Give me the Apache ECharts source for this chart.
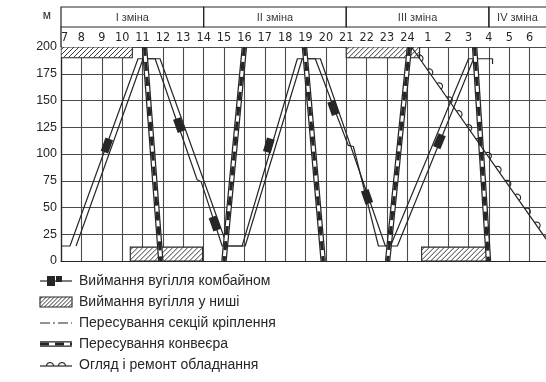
<!DOCTYPE html>
<html>
<head>
<meta charset="utf-8">
<script src="https://cdn.jsdelivr.net/npm/echarts@6/dist/echarts.min.js"></script>
<style>
  html, body { margin: 0; padding: 0; background: #ffffff; }
  #chart { width: 546px; height: 382px; }
</style>
</head>
<body>
<div id="chart"></div>
<script>
// Time axis: clock hours from 07:00 running on past midnight into the next day
const hours = [7, 8, 9, 10, 11, 12, 13, 14, 15, 16, 17, 18, 19, 20, 21, 22, 23, 24, 25, 26, 27, 28, 29, 30, 31];
const hourLabels = ['7', '8', '9', '10', '11', '12', '13', '14', '15', '16', '17', '18', '19', '20',
                    '21', '22', '23', '24', '1', '2', '3', '4', '5', '6', '7'];
// Face length axis, metres
const depthLabels = ['0', '25', '50', '75', '100', '125', '150', '175', '200'];

// Shifts
const shiftNames = ['I зміна', 'II зміна', 'III зміна', 'IV зміна'];
const shiftBounds = [7, 14, 21, 28, 35];

// Shearer run along the face: leading and trailing edges of the band [hour, m]
const combineLead = [[7.0, 14], [7.44, 14], [10.78, 189], [11.86, 189], [15.16, 14], [15.89, 14],
                     [18.6, 189], [19.73, 189], [22.92, 14], [23.17, 14], [27.0, 189], [28.18, 189], [28.18, 184]];
const combineTrail = [[7.74, 14], [11.03, 189], [11.62, 189], [13.68, 76], [13.88, 74], [14.91, 14], [16.04, 14],
                      [18.84, 189], [19.48, 189], [21.1, 108], [21.35, 107], [22.58, 14], [23.51, 14], [27.25, 189]];
// Shearer position marks on the band [hour, m]
const combineMarks = [[9.25, 108], [12.8, 127], [14.55, 35], [17.2, 108], [20.37, 143], [22.02, 60], [25.57, 112]];

// Conveyor moves [hour start, m start, hour end, m end]
const conveyorMoves = [[11.1, 200, 11.9, 0], [16.0, 200, 15.0, 0], [18.95, 200, 19.87, 0],
                       [24.1, 200, 23.03, 0], [27.3, 200, 27.98, 0]];

// Coal cutting in the stable holes [hour from, hour to, m from, m to]
const nicheCutting = [[7.0, 10.5, 190, 200], [10.4, 13.95, 0, 13], [21.0, 24.6, 190, 200], [24.7, 27.95, 0, 13]];

// Equipment inspection and repair [hour start, m start, hour end, m end]
const inspection = [[24.2, 200, 30.83, 20]];

const ink = '#262626';
const gridInk = '#4a4a4a';
const narrowFont = "'Liberation Sans Narrow', 'DejaVu Sans Condensed', 'Liberation Sans', sans-serif";
const bodyFont = "'Liberation Sans', Arial, sans-serif";

// Diagonal hatching inside a pixel rectangle
function hatchLines(L, T, R, B, step, stroke) {
  const out = [];
  for (let c = L + T + step * 0.6; c < R + B; c += step) {
    const xa = Math.max(L, c - B), xb = Math.min(R, c - T);
    if (xb > xa) {
      out.push({ type: 'line', shape: { x1: xa, y1: c - xa, x2: xb, y2: c - xb },
                 style: { stroke: stroke, lineWidth: 1 } });
    }
  }
  return out;
}

// Conveyor stroke: outlined band with black dashes
function conveyorStroke(x1, y1, x2, y2) {
  const shape = { x1, y1, x2, y2 };
  return [
    { type: 'line', shape, style: { stroke: ink, lineWidth: 5.5 } },
    { type: 'line', shape, style: { stroke: '#ffffff', lineWidth: 3 } },
    { type: 'line', shape, style: { stroke: ink, lineWidth: 3.2, lineDash: [9, 6] } }
  ];
}

// Line with small half-circles on its upper side
function bumpyLine(a, b, first, spacing, r) {
  const dx = b[0] - a[0], dy = b[1] - a[1];
  const len = Math.hypot(dx, dy);
  const ux = dx / len, uy = dy / len;
  const th = Math.atan2(uy, ux);
  const items = [{ type: 'line', shape: { x1: a[0], y1: a[1], x2: b[0], y2: b[1] },
                   style: { stroke: ink, lineWidth: 1.2 } }];
  for (let s = first; s < len; s += spacing) {
    const cx = a[0] + ux * s, cy = a[1] + uy * s;
    const pts = [];
    for (let k = 0; k <= 10; k++) {
      const ang = th - Math.PI + Math.PI * k / 10;
      pts.push([cx + r * Math.cos(ang), cy + r * Math.sin(ang)]);
    }
    items.push({ type: 'polyline', shape: { points: pts },
                 style: { stroke: ink, lineWidth: 1.1, fill: null } });
  }
  return items;
}

const chart = echarts.init(document.getElementById('chart'), null, { renderer: 'canvas' });

const keyFont = '14px ' + bodyFont;

const option = {
  animation: false,
  backgroundColor: '#ffffff',
  grid: { left: 61, right: -4, top: 47, bottom: 121, containLabel: false, outerBoundsMode: 'none' },
  xAxis: {
    type: 'value', position: 'top', min: 7, max: 31, interval: 1,
    axisLine: { show: true, lineStyle: { color: ink, width: 1.2 } },
    axisTick: { show: false },
    splitLine: { show: true, lineStyle: { color: gridInk, width: 1.1 } },
    axisLabel: {
      margin: 3, fontSize: 12.5, color: ink, fontFamily: narrowFont,
      showMinLabel: true, showMaxLabel: true, alignMinLabel: 'left',
      formatter: v => { const i = hours.indexOf(v); return i >= 0 ? hourLabels[i] : ''; }
    }
  },
  yAxis: {
    type: 'value', min: 0, max: 200, interval: 25,
    name: 'м', nameLocation: 'end', nameGap: 25,
    nameTextStyle: { color: ink, fontSize: 12, fontFamily: bodyFont, align: 'right', padding: [0, 10, 0, 0] },
    axisLine: { show: true, lineStyle: { color: ink, width: 1.3 } },
    axisTick: { show: false },
    splitLine: { show: true, lineStyle: { color: gridInk, width: 1.1 } },
    axisLabel: {
      margin: 4, fontSize: 12.5, color: ink, fontFamily: bodyFont,
      formatter: v => depthLabels[Math.round(v / 25)]
    }
  },
  series: [
    {
      name: 'Зміни', type: 'custom', clip: false, silent: true, z: 1,
      data: shiftNames.map((n, i) => [shiftBounds[i], shiftBounds[i + 1], i]),
      renderItem: (params, api) => {
        const a = api.coord([api.value(0), 200]);
        const b = api.coord([api.value(1), 200]);
        const right = Math.min(b[0], api.getWidth());
        const idx = api.value(2);
        const children = [
          { type: 'rect', shape: { x: a[0], y: 7, width: b[0] - a[0], height: 20 },
            style: { stroke: ink, lineWidth: 1.2, fill: null } },
          { type: 'text', style: { x: (a[0] + right) / 2, y: 17.5, text: shiftNames[idx],
            fill: '#3a3a3a', font: '11px ' + bodyFont, align: 'center', verticalAlign: 'middle' } }
        ];
        if (idx === 0) {
          children.push({ type: 'line', shape: { x1: a[0], y1: 27, x2: a[0], y2: a[1] },
                          style: { stroke: ink, lineWidth: 1.3 } });
        }
        return { type: 'group', children };
      }
    },
    {
      name: 'Виймання вугілля у ниші', type: 'custom', clip: true, silent: true, z: 2,
      data: nicheCutting,
      renderItem: (params, api) => {
        const p0 = api.coord([api.value(0), api.value(3)]);
        const p1 = api.coord([api.value(1), api.value(2)]);
        const L = p0[0], T = p0[1], R = p1[0], B = p1[1];
        return { type: 'group', children: [
          { type: 'rect', shape: { x: L, y: T, width: R - L, height: B - T },
            style: { fill: '#ffffff', stroke: ink, lineWidth: 1.1 } },
          ...hatchLines(L, T, R, B, 5, '#3a3a3a')
        ] };
      }
    },
    {
      name: 'Виймання вугілля комбайном', type: 'line', data: combineLead,
      showSymbol: false, silent: true, z: 3,
      lineStyle: { color: ink, width: 1.2 }
    },
    {
      name: 'Пересування секцій кріплення', type: 'line', data: combineTrail,
      showSymbol: false, silent: true, z: 3,
      lineStyle: { color: ink, width: 1.2 }
    },
    {
      name: 'Пересування конвеєра', type: 'custom', clip: true, silent: true, z: 4,
      data: conveyorMoves,
      renderItem: (params, api) => {
        const a = api.coord([api.value(0), api.value(1)]);
        const b = api.coord([api.value(2), api.value(3)]);
        return { type: 'group', children: conveyorStroke(a[0], a[1], b[0], b[1]) };
      }
    },
    {
      name: 'Комбайн', type: 'custom', clip: true, silent: true, z: 5,
      data: combineMarks,
      renderItem: (params, api) => {
        const p = api.coord([api.value(0), api.value(1)]);
        let best = Infinity, ang = 0;
        for (let i = 0; i + 1 < combineLead.length; i++) {
          const a = api.coord(combineLead[i]), b = api.coord(combineLead[i + 1]);
          const dx = b[0] - a[0], dy = b[1] - a[1], L2 = dx * dx + dy * dy;
          if (!L2 || Math.abs(dy) < 1) continue;
          let t = ((p[0] - a[0]) * dx + (p[1] - a[1]) * dy) / L2;
          t = Math.max(0, Math.min(1, t));
          const qx = a[0] + t * dx - p[0], qy = a[1] + t * dy - p[1], d = qx * qx + qy * qy;
          if (d < best) { best = d; ang = Math.atan2(dy, dx); }
        }
        const ux = Math.cos(ang), uy = Math.sin(ang), nx = -uy, ny = ux;
        const hl = 7, hw = 4;
        const pts = [
          [p[0] - ux * hl - nx * hw, p[1] - uy * hl - ny * hw],
          [p[0] + ux * hl - nx * hw, p[1] + uy * hl - ny * hw],
          [p[0] + ux * hl + nx * hw, p[1] + uy * hl + ny * hw],
          [p[0] - ux * hl + nx * hw, p[1] - uy * hl + ny * hw]
        ];
        return { type: 'polygon', shape: { points: pts }, style: { fill: ink } };
      }
    },
    {
      name: 'Огляд і ремонт обладнання', type: 'custom', clip: true, silent: true, z: 5,
      data: inspection,
      renderItem: (params, api) => {
        const a = api.coord([api.value(0), api.value(1)]);
        const b = api.coord([api.value(2), api.value(3)]);
        return { type: 'group', children: bumpyLine(a, b, 14, 17, 3.5) };
      }
    }
  ],
  graphic: [
    // Key
    { type: 'group', silent: true, children: [
      { type: 'line', shape: { x1: 40, y1: 281, x2: 72, y2: 281 }, style: { stroke: ink, lineWidth: 1.2 } },
      { type: 'rect', shape: { x: 47, y: 276, width: 8, height: 10 }, style: { fill: ink } },
      { type: 'rect', shape: { x: 56, y: 276, width: 6, height: 6 }, style: { fill: ink } },
      { type: 'text', style: { x: 79, y: 281, text: 'Виймання вугілля комбайном', fill: ink,
        font: keyFont, verticalAlign: 'middle' } },

      { type: 'rect', shape: { x: 40, y: 297, width: 32, height: 10 }, style: { fill: '#fff', stroke: ink, lineWidth: 1.1 } },
      ...hatchLines(40, 297, 72, 307, 4, '#333'),
      { type: 'text', style: { x: 79, y: 302, text: 'Виймання вугілля у ниші', fill: ink,
        font: keyFont, verticalAlign: 'middle' } },

      { type: 'line', shape: { x1: 40, y1: 323, x2: 72, y2: 323 }, style: { stroke: ink, lineWidth: 1.2, lineDash: [10, 3, 2, 3] } },
      { type: 'text', style: { x: 79, y: 323, text: 'Пересування секцій кріплення', fill: ink,
        font: keyFont, verticalAlign: 'middle' } },

      ...conveyorStroke(40, 344, 72, 344),
      { type: 'text', style: { x: 79, y: 344, text: 'Пересування конвеєра', fill: ink,
        font: keyFont, verticalAlign: 'middle' } },

      ...bumpyLine([40, 366], [72, 366], 10, 12, 3.5),
      { type: 'text', style: { x: 79, y: 365, text: 'Огляд і ремонт обладнання', fill: ink,
        font: keyFont, verticalAlign: 'middle' } }
    ] }
  ]
};

chart.setOption(option);
</script>
</body>
</html>
